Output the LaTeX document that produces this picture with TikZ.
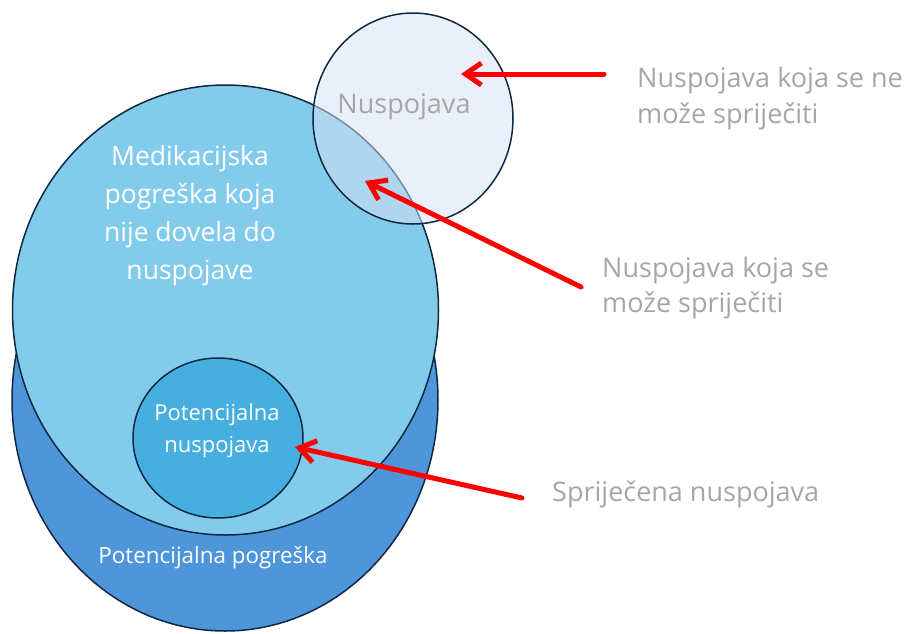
\documentclass[tikz,border=0pt]{standalone}
\usepackage{fontspec}
\setmainfont{Open Sans}
\usepackage{tikz}
\usetikzlibrary{positioning}
\usetikzlibrary{shapes.geometric,arrows.meta}
\definecolor{rubovi}{HTML}{0E2841}
\definecolor{tamna}{HTML}{4E95D9}
\definecolor{svijetla}{HTML}{83CBEB}
\definecolor{srednja}{HTML}{47AFDF}
\definecolor{blijeda}{HTML}{D5E2F3}
\definecolor{siva}{HTML}{A6A6A6}
\definecolor{crvena}{HTML}{FF0000}
\tikzset{%
  skup/.style = {ellipse,draw=rubovi,line width=1.5pt,inner sep=0pt},
  bijeli/.style = {text=white,align=center,inner sep=0pt},
  sivi/.style = {text=siva,align=left,inner sep=0pt},
  strelica/.style = {-{Straight Barb[length=16pt,width=22pt]},draw=crvena,
        line width=5pt,line cap=round,line join=round}
}

\begin{document}
\begin{tikzpicture}[x=1pt,y=-1pt]
  \useasboundingbox (0,0) rectangle (906,633);
  \node[skup,fill=tamna,minimum width=426pt,minimum height=462pt] (pogreska) at (225,400) {};
  \node[skup,fill=svijetla,minimum width=426pt,minimum height=450pt] (medik) at (225.5,310) {};
  \node[skup,fill=srednja,minimum width=170pt,minimum height=160pt] (potnusp) at (218,438) {};
  \node[skup,fill=blijeda,fill opacity=0.53,minimum width=200pt,minimum height=211pt] (nusp) at (413,118.5) {};

  \node[bijeli,font=\fontsize{26.5}{38}\selectfont] (medtekst) at (190,216) {Medikacijska\\pogreška koja\\nije dovela do\\nuspojave};
  \node[bijeli,font=\fontsize{22}{32}\selectfont] (pntekst) at (217,431) {Potencijalna\\nuspojava};
  \node[bijeli,font=\fontsize{22.4}{26}\selectfont] (pgtekst) at (213,558) {Potencijalna pogreška};
  \node[sivi,font=\fontsize{27}{30}\selectfont] (nusptekst) at (404,107) {Nuspojava};

  \node[sivi,anchor=west,font=\fontsize{27}{36}\selectfont] (neizbjezna) at (637,98) {Nuspojava koja se ne\\može spriječiti};
  \node[sivi,anchor=west,font=\fontsize{27}{35}\selectfont] (izbjezna) at (602,287.5) {Nuspojava koja se\\može spriječiti};
  \node[sivi,anchor=west,font=\fontsize{27}{30}\selectfont] (sprijecena) at (552,494) {Spriječena nuspojava};

  \coordinate (rep1) at (604,74);
  \coordinate (vrh1) at (461,74);
  \coordinate (rep2) at (581,287);
  \coordinate (vrh2) at (365,181);
  \coordinate (rep3) at (522,498);
  \coordinate (vrh3) at (295,447);
  \draw[strelica] (rep1) -- (vrh1);
  \draw[strelica] (rep2) -- (vrh2);
  \draw[strelica] (rep3) -- (vrh3);
\end{tikzpicture}
\end{document}
